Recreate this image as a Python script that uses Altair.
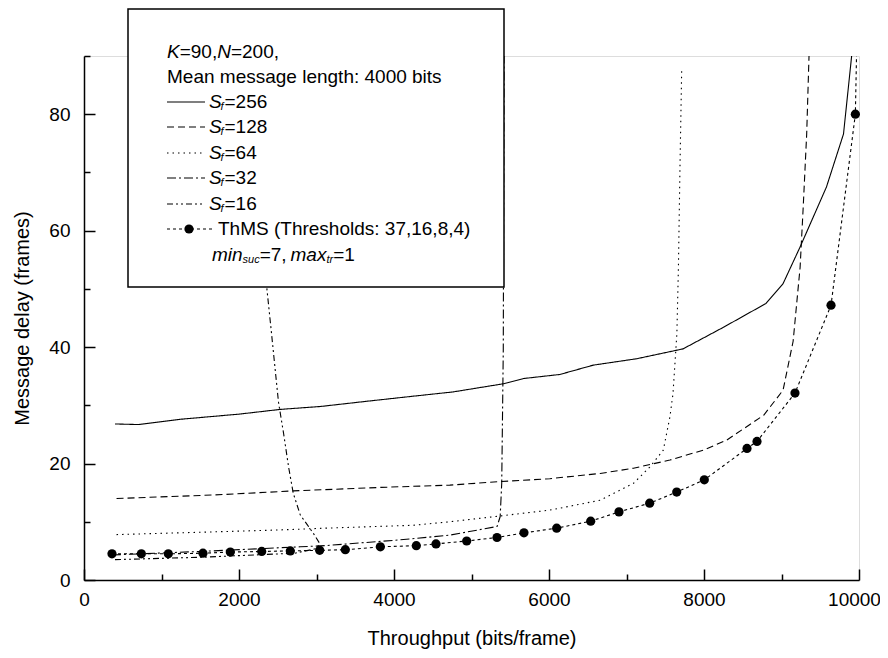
import altair as alt
import pandas as pd

# ---------------- data ----------------
s256_x = [400, 700, 1240, 2010, 2530, 3050, 3650, 4200, 4760, 5410, 5670, 6140, 6570, 7130, 7730, 8250, 8800, 9020, 9240, 9580, 9800, 9905]
s256_y = [26.8, 26.7, 27.6, 28.5, 29.3, 29.8, 30.7, 31.5, 32.3, 33.7, 34.6, 35.3, 36.9, 38.0, 39.7, 43.4, 47.5, 50.9, 57.2, 67.5, 76.6, 90.0]

s128_x = [420, 1670, 2700, 3820, 4720, 5370, 6010, 6660, 7090, 7560, 7990, 8290, 8770, 9020, 9150, 9240, 9280, 9325, 9355]
s128_y = [14.0, 14.6, 15.3, 15.9, 16.3, 16.9, 17.4, 18.3, 19.2, 20.6, 22.3, 24.0, 28.3, 32.6, 41.0, 53.7, 64.0, 76.6, 90.0]

s64_x = [420, 1500, 2530, 3110, 4250, 4720, 5370, 6010, 6660, 7090, 7300, 7475, 7560, 7600, 7650, 7670, 7690, 7712]
s64_y = [7.8, 8.2, 8.6, 8.9, 9.4, 10.0, 11.0, 12.0, 13.7, 16.6, 19.4, 22.3, 28.0, 32.0, 42.3, 53.7, 70.9, 87.5]

s32_x = [360, 1500, 2790, 3110, 4080, 4720, 5330, 5370, 5390, 5410, 5420]
s32_y = [4.3, 4.9, 5.7, 5.9, 6.9, 7.7, 9.2, 10.9, 16.6, 39.5, 90.0]

s16_x = [400, 1500, 2720, 3000, 3040, 2960, 2880, 2790, 2700, 2640, 2575, 2510, 2420, 2360, 2080]
s16_y = [3.5, 3.9, 4.6, 5.4, 6.3, 8.0, 9.5, 11.2, 14.9, 19.4, 25.2, 30.5, 42.3, 50.0, 90.0]

thms_x = [361, 740, 1088, 1535, 1888, 2293, 2662, 3041, 3372, 3824, 4288, 4542, 4938, 5329, 5677, 6099, 6538, 6903, 7299, 7648, 8004, 8555, 8684, 9174, 9639, 9953]
thms_y = [4.5, 4.5, 4.5, 4.6, 4.8, 4.9, 5.0, 5.1, 5.2, 5.7, 5.9, 6.2, 6.7, 7.3, 8.1, 8.9, 10.1, 11.7, 13.2, 15.1, 17.2, 22.6, 23.8, 32.1, 47.2, 80.0]
thms_line_end_x = [9968]
thms_line_end_y = [90.0]

series_names = ["S256", "S128", "S64", "S32", "S16", "ThMS"]

x_major = [0, 2000, 4000, 6000, 8000, 10000]
x_ticks = [0, 1000, 2000, 3000, 4000, 5000, 6000, 7000, 8000, 9000, 10000]
y_major = [0, 20, 40, 60, 80]
y_ticks = [0, 10, 20, 30, 40, 50, 60, 70, 80, 90]

# ---------------- tables ----------------
rows = []
for name, xs_, ys_ in [("S256", s256_x, s256_y), ("S128", s128_x, s128_y), ("S64", s64_x, s64_y),
                       ("S32", s32_x, s32_y), ("S16", s16_x, s16_y),
                       ("ThMS", thms_x + thms_line_end_x, thms_y + thms_line_end_y)]:
    for i, (a, b) in enumerate(zip(xs_, ys_)):
        rows.append({"series": name, "x": a, "y": b, "idx": i})
lines_df = pd.DataFrame(rows)
marks_df = pd.DataFrame({"x": thms_x, "y": thms_y})

W, H = 775, 524
FONT = "Liberation Sans"
dashes = [[1, 0], [7, 4], [1.5, 4], [9, 3, 2, 3], [6, 3, 2, 3, 2, 3], [3, 3]]

xs = alt.Scale(domain=[0, 10000], nice=False, zero=False)
ys = alt.Scale(domain=[0, 90], nice=False, zero=False)

axis_x = alt.Axis(values=x_major, format="d", ticks=False, grid=False, domainColor="black", domainWidth=1.5,
                  labelFont=FONT, labelFontSize=19, labelColor="black", labelPadding=10, labelFlush=False,
                  labelOffset={"condition": {"test": "datum.value === 10000", "value": -5}, "value": 0},
                  title="Throughput (bits/frame)", titleFont=FONT, titleFontSize=20, titleFontWeight="normal",
                  titleColor="black", titleX=W / 2, titleY=58, titleBaseline="middle", titleAlign="center")
axis_y = alt.Axis(values=y_major, format="d", ticks=False, grid=False, domainColor="black", domainWidth=1.5,
                  labelFont=FONT, labelFontSize=19, labelColor="black", labelPadding=14, labelFlush=False,
                  title="Message delay (frames)", titleFont=FONT, titleFontSize=20, titleFontWeight="normal",
                  titleColor="black", titleX=-62, titleY=H / 2, titleBaseline="middle", titleAlign="center",
                  titleAngle=270)

tick_x = alt.Axis(orient="top", offset=-H, values=x_ticks, labels=False, domain=False, grid=False, title=None,
                  tickColor="black", tickWidth=1.5,
                  tickSize={"condition": {"test": "datum.value % 2000 === 0", "value": 11}, "value": 6})
tick_y = alt.Axis(orient="right", offset=-W, values=y_ticks, labels=False, domain=False, grid=False, title=None,
                  tickColor="black", tickWidth=1.5,
                  tickSize={"condition": {"test": "datum.value % 20 === 0", "value": 11}, "value": 6})

lines = alt.Chart(lines_df).mark_line(strokeWidth=1.1, color="black").encode(
    x=alt.X("x:Q", scale=xs, axis=axis_x),
    y=alt.Y("y:Q", scale=ys, axis=axis_y),
    detail="series:N",
    order="idx:Q",
    strokeDash=alt.StrokeDash("series:N", scale=alt.Scale(domain=series_names, range=dashes), legend=None),
)

ticks_layer = alt.Chart(marks_df).mark_point(opacity=0).encode(
    x=alt.X("x:Q", scale=xs, axis=tick_x),
    y=alt.Y("y:Q", scale=ys, axis=tick_y),
)

points = alt.Chart(marks_df).mark_circle(size=85, color="black", opacity=1).encode(
    x=alt.X("x:Q", scale=xs, axis=None),
    y=alt.Y("y:Q", scale=ys, axis=None),
)

# ---------------- legend box (page coords minus plot origin 84,56) ----------------
OX, OY = 84, 56
one = pd.DataFrame({"a": [0]})
box = alt.Chart(one).mark_rect(fill="white", stroke="black", strokeWidth=1.5).encode(
    x=alt.value(128 - OX), x2=alt.value(504 - OX), y=alt.value(9 - OY), y2=alt.value(287 - OY))

row_y = {"K": 52, "Mean": 77, "S256": 102, "S128": 127, "S64": 153, "S32": 178, "S16": 204, "ThMS": 229, "min": 255}
legend_layers = [box]
for name, dash in zip(series_names, dashes):
    x1, x2 = (167, 214) if name == "ThMS" else (167, 205)
    legend_layers.append(
        alt.Chart(one).mark_rule(color="black", strokeWidth=1.1, strokeDash=dash).encode(
            x=alt.value(x1 - OX), x2=alt.value(x2 - OX), y=alt.value(row_y[name] - OY)))
legend_layers.append(alt.Chart(one).mark_circle(size=85, color="black", opacity=1).encode(
    x=alt.value(189 - OX), y=alt.value(row_y["ThMS"] - OY)))

fs = 19
segs = [
    ("K", 167, row_y["K"], True, fs), ("=90,", 179.7, row_y["K"], False, fs),
    ("N", 217.2, row_y["K"], True, fs), ("=200,", 230.9, row_y["K"], False, fs),
    ("Mean message length: 4000 bits", 167, row_y["Mean"], False, fs),
    ("ThMS (Thresholds: 37,16,8,4)", 218, row_y["ThMS"], False, fs),
    ("min", 212, row_y["min"], True, fs), ("suc", 242.6, row_y["min"] + 5, True, 11),
    ("=7,", 259.7, row_y["min"], False, fs), ("max", 290.5, row_y["min"], True, fs),
    ("tr", 326.4, row_y["min"] + 5, True, 11), ("=1", 333.2, row_y["min"], False, fs),
]
for name, val in [("S256", "=256"), ("S128", "=128"), ("S64", "=64"), ("S32", "=32"), ("S16", "=16")]:
    segs += [("S", 209, row_y[name], True, fs), ("f", 220.5, row_y[name] + 5, True, 11),
             (val, 224.5, row_y[name], False, fs)]
seg_df = pd.DataFrame([{"t": t, "px": px - OX, "py": py - OY, "it": it, "sz": sz} for t, px, py, it, sz in segs])

for it, style in [(True, "italic"), (False, "normal")]:
    legend_layers.append(
        alt.Chart(seg_df[seg_df["it"] == it]).mark_text(font=FONT, fontStyle=style, align="left",
                                                         baseline="middle", color="black").encode(
            x=alt.X("px:Q", scale=None, axis=None),
            y=alt.Y("py:Q", scale=None, axis=None),
            size=alt.Size("sz:Q", scale=None, legend=None),
            text="t:N"))

chart = alt.layer(lines, ticks_layer, points, *legend_layers).resolve_scale(
    x="independent", y="independent").resolve_axis(x="independent", y="independent").properties(
    width=W, height=H, autosize=alt.AutoSizeParams(type="none"),
    padding={"left": 76, "top": 48, "right": 21, "bottom": 70},
).configure_view(stroke=None).configure(background="white")

chart.save("out.html", embed_options={"renderer": "svg", "actions": False})
